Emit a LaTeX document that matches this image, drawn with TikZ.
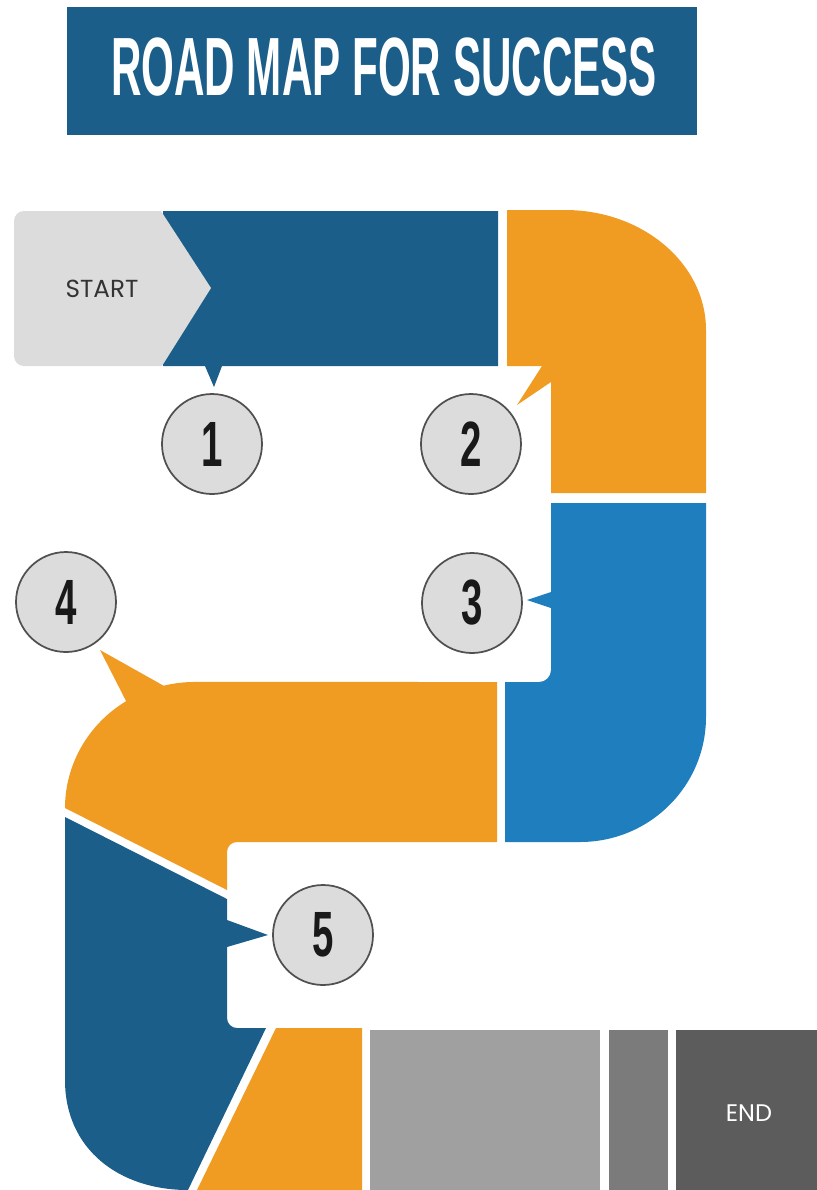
\documentclass[tikz,border=0pt]{standalone}
\usepackage{fontspec}
\usepackage{graphicx}
\setmainfont{Poppins}
\newfontfamily\headfont{Liberation Sans}
\definecolor{roaddark}{HTML}{1B5E8A}
\definecolor{roadlight}{HTML}{1F7FBE}
\definecolor{roadorange}{HTML}{F09C23}
\definecolor{startgray}{HTML}{DCDCDC}
\definecolor{ringgray}{HTML}{505050}
\definecolor{endlight}{HTML}{A0A0A0}
\definecolor{endmid}{HTML}{7B7B7B}
\definecolor{enddark}{HTML}{5C5C5C}
\tikzset{
  numcirc/.style={circle, draw=ringgray, line width=1.3pt, fill=startgray, minimum size=75pt, inner sep=0pt,
    font=\headfont\bfseries\fontsize{48}{48}\selectfont, text=black!90},
}
\newcommand{\narrow}[2]{\scalebox{#1}[1]{#2}}
\begin{document}
\begin{tikzpicture}[x=0.75pt, y=-0.75pt]
	\useasboundingbox (0,0) rectangle (817,1190);
	% title
	\fill[roaddark] (67,7) rectangle (697,135);
	\node[text=white, font=\headfont\bfseries\fontsize{62}{62}\selectfont] (title) at (384,67) {\narrow{0.51}{ROAD MAP FOR SUCCESS}};
	% road, first leg
	\fill[roaddark] (163,211) -- (498,211) -- (498,366) -- (222,366) -- (214,387) -- (205,366) -- (163,366) -- cycle;
	\fill[startgray] (161,211) -- (211,288) -- (162,366) -- (24,366) arc[start angle=90, end angle=180, radius=10] -- (14,221) arc[start angle=180, end angle=270, radius=10] -- cycle;
	\node[text=black!80, font=\fontsize{18.5}{18.5}\selectfont] (start) at (102,289) {START};
	% bend, top right
	\fill[roadorange] (507,210) -- (565,210) arc[start angle=270, end angle=360, x radius=141, y radius=120] -- (706,493) -- (551,493) -- (551,382) -- (517,405) -- (542,366) -- (507,366) -- cycle;
	% bend, right
	\fill[roadlight] (551,503) -- (706,503) -- (706,717) arc[start angle=0, end angle=90, x radius=126, y radius=125] -- (505,842) -- (505,682) -- (539,682) arc[start angle=90, end angle=0, radius=12] -- (551,608) -- (527,600) -- (551,592) -- cycle;
	% bend, left
	\fill[roadorange] (497,682) -- (497,842) -- (237,842) arc[start angle=270, end angle=180, radius=10] -- (227,890) -- (65,808) arc[start angle=180, end angle=238, x radius=130, y radius=126] -- (100,650) -- (163.6,685.7) arc[start angle=256, end angle=270, x radius=130, y radius=126] -- cycle;
	% bend, bottom left
	\fill[roaddark] (65,817) -- (227,899) -- (227,920) -- (268,935) -- (227,947) -- (227,1018) arc[start angle=180, end angle=90, radius=10] -- (266,1028) -- (188,1190) .. controls (120,1190) and (65,1150) .. (65,1080) -- cycle;
	\fill[roadorange] (276,1028) -- (362,1028) -- (362,1190) -- (197,1190) -- cycle;
	% last stretch
	\fill[endlight] (370,1030) rectangle (600,1190);
	\fill[endmid] (609,1030) rectangle (668,1190);
	\fill[enddark] (676,1030) rectangle (817,1190);
	\node[text=white, font=\fontsize{18}{18}\selectfont] (end) at (749,1113) {END};
	% steps
	\node[numcirc] (s1) at (212,444) {\narrow{0.6}{1}};
	\node[numcirc] (s2) at (471,444) {\narrow{0.6}{2}};
	\node[numcirc] (s3) at (472,603) {\narrow{0.6}{3}};
	\node[numcirc] (s4) at (66,602) {\narrow{0.6}{4}};
	\node[numcirc] (s5) at (323,935) {\narrow{0.6}{5}};
\end{tikzpicture}
\end{document}
